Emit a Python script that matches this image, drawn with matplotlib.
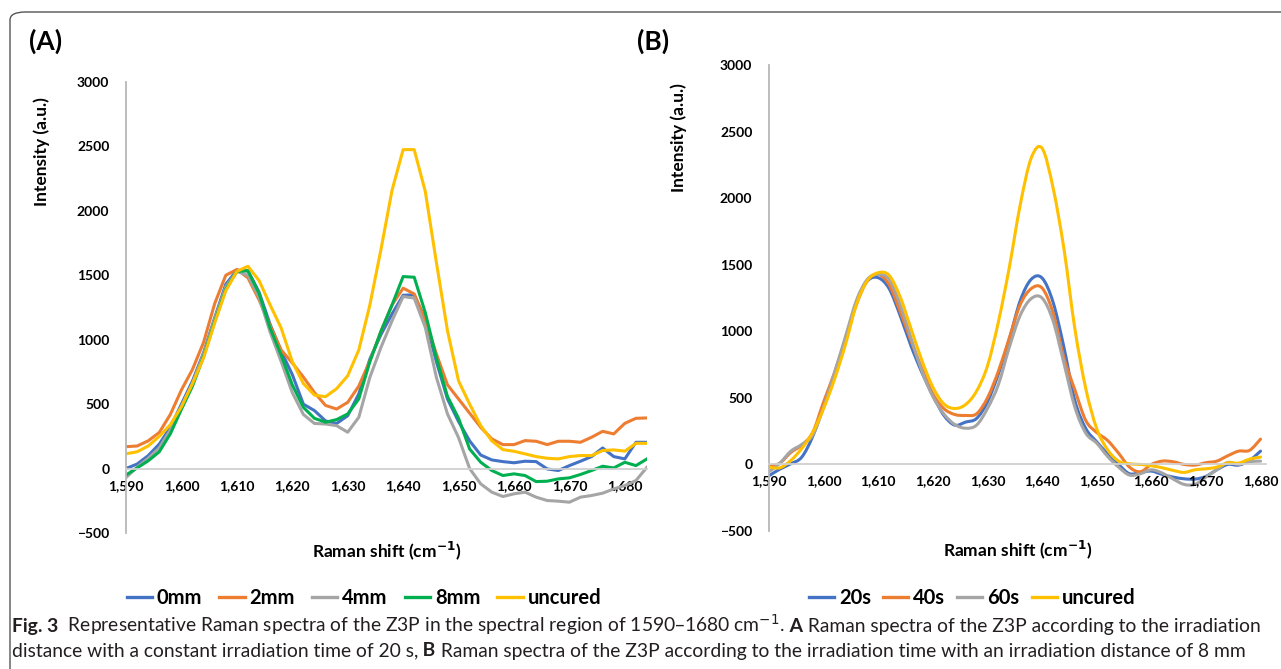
import numpy as np
import matplotlib
matplotlib.use("Agg")
import matplotlib.pyplot as plt
from matplotlib.path import Path
from matplotlib.patches import PathPatch, FancyBboxPatch
from matplotlib.lines import Line2D
from matplotlib.ticker import FuncFormatter
from matplotlib.offsetbox import TextArea, HPacker, AnchoredOffsetbox

plt.rcParams['font.family'] = ['Lato', 'DejaVu Sans']

# ---- panel A: irradiation distance (raw, straight segments) ----
shift_a = list(range(1590, 1685, 2))
mm0 = [0, 35, 100, 190, 320, 500, 680, 900, 1170, 1430, 1540, 1535, 1370, 1120, 910, 730,
       500, 450, 370, 350, 410, 580, 850, 1040, 1200, 1345, 1348, 1160, 830, 540, 365, 215,
       105, 67, 54, 45, 57, 54, -3, -15, 23, 57, 93, 160, 93, 75, 204, 204]
mm2 = [170, 175, 215, 280, 420, 610, 770, 980, 1280, 1500, 1545, 1480, 1310, 1110, 920, 820,
       710, 590, 490, 462, 514, 640, 835, 1065, 1270, 1400, 1355, 1150, 890, 650, 540, 430,
       320, 230, 186, 186, 217, 212, 186, 212, 212, 204, 243, 289, 269, 351, 390, 393]
mm4 = [-70, 10, 80, 160, 300, 480, 660, 890, 1160, 1410, 1530, 1500, 1330, 1060, 830, 590,
       420, 350, 346, 333, 282, 398, 708, 940, 1147, 1335, 1323, 1095, 708, 424, 240, 0,
       -119, -183, -217, -196, -183, -222, -248, -253, -261, -222, -209, -191, -158, -132, -93, 10]
mm8 = [-50, 5, 60, 130, 270, 460, 640, 870, 1140, 1390, 1530, 1535, 1360, 1090, 880, 650,
       475, 390, 360, 380, 424, 540, 830, 1065, 1270, 1490, 1485, 1210, 860, 560, 390, 152,
       49, -15, -54, -41, -54, -101, -98, -80, -72, -46, -15, 18, 5, 49, 23, 75]
uncured_a = [115, 130, 175, 250, 340, 480, 660, 860, 1130, 1380, 1530, 1570, 1460, 1270, 1090, 830,
             660, 570, 558, 620, 720, 920, 1270, 1700, 2160, 2475, 2475, 2150, 1600, 1070, 680, 500,
             333, 215, 147, 134, 114, 93, 80, 75, 93, 101, 101, 140, 145, 135, 196, 196]

# ---- panel B: irradiation time (smoothed lines) ----
shift_b = list(range(1590, 1681, 2))
s20 = [-85, -35, 5, 55, 210, 440, 663, 920, 1220, 1377, 1402, 1320, 1120, 890, 690, 520,
       370, 295, 318, 345, 470, 680, 940, 1230, 1390, 1400, 1220, 880, 480, 270, 170, 80,
       0, -70, -60, -50, -75, -95, -108, -110, -90, -40, 0, -5, 30, 100]
s40 = [-15, 10, 90, 145, 240, 470, 690, 940, 1200, 1380, 1427, 1350, 1150, 930, 720, 530,
       420, 375, 368, 380, 500, 700, 950, 1200, 1320, 1325, 1140, 800, 560, 330, 240, 180,
       85, -20, -55, 0, 25, 20, 0, -5, 13, 25, 65, 100, 106, 190]
s60 = [-55, 10, 100, 150, 220, 430, 690, 960, 1230, 1390, 1427, 1390, 1200, 950, 700, 510,
       380, 300, 272, 295, 420, 600, 880, 1120, 1245, 1250, 1080, 760, 430, 235, 160, 60,
       -20, -80, -70, -40, -65, -110, -150, -150, -95, -40, 15, 0, 20, 25]
uncured_b = [-20, -25, 30, 120, 240, 420, 640, 900, 1200, 1380, 1440, 1420, 1260, 1020, 780, 580,
             455, 420, 450, 550, 740, 1070, 1480, 1950, 2300, 2375, 2080, 1620, 1020, 570, 270, 110,
             25, 5, 0, -10, -25, -45, -60, -40, -33, -20, 12, 10, 40, 55]

labels_a = ['0mm', '2mm', '4mm', '8mm', 'uncured']
labels_b = ['20s', '40s', '60s', 'uncured']
colors_a = ['#4472C4', '#ED7D31', '#A5A5A5', '#00B050', '#FFC000']
colors_b = ['#4472C4', '#ED7D31', '#A5A5A5', '#FFC000']

W, H = 1281, 669
fig = plt.figure(figsize=(W / 100, H / 100), dpi=100)


def px_rect(x0, y0, x1, y1):
    # pixel box (top-left origin) -> figure fraction
    return [x0 / W, 1 - y1 / H, (x1 - x0) / W, (y1 - y0) / H]


def smooth_line(ax, x, y, color, lw):
    # Excel-like smoothed line: Catmull-Rom through the points as cubic Beziers
    pts = np.column_stack([np.asarray(x, float), np.asarray(y, float)])
    verts = [pts[0]]
    codes = [Path.MOVETO]
    n = len(pts)
    for i in range(n - 1):
        p0 = pts[max(i - 1, 0)]
        p1 = pts[i]
        p2 = pts[i + 1]
        p3 = pts[min(i + 2, n - 1)]
        verts += [p1 + (p2 - p0) / 6, p2 - (p3 - p1) / 6, p2]
        codes += [Path.CURVE4] * 3
    ax.add_patch(PathPatch(Path(verts, codes), fill=False, edgecolor=color, lw=lw,
                           capstyle='round', joinstyle='round'))


def style_axes(ax, xlim):
    ax.set_xlim(*xlim)
    ax.set_ylim(-500, 3000)
    ax.set_xticks(range(1590, 1681, 10))
    ax.set_yticks(range(-500, 3001, 500))
    ax.xaxis.set_major_formatter(FuncFormatter(lambda v, p: f'{int(v):,}'))
    for s in ['top', 'right']:
        ax.spines[s].set_visible(False)
    ax.spines['bottom'].set_position(('data', 0))
    ax.spines['bottom'].set_color('#D0D0D0')
    ax.spines['bottom'].set_linewidth(1.3)
    ax.spines['left'].set_color('#B8B8B8')
    ax.spines['left'].set_linewidth(1.3)
    ax.tick_params(axis='both', length=0, labelsize=10)
    ax.tick_params(axis='y', pad=12)
    ax.tick_params(axis='x', pad=8)
    for t in ax.get_xticklabels() + ax.get_yticklabels():
        t.set_fontweight('bold')
    ax.set_ylabel('Intensity (a.u.)', fontsize=12.5, fontweight='bold')
    ax.set_xlabel('Raman shift (cm$^{\\mathbf{-1}}$)', fontsize=12.5, fontweight='bold')
    ax.xaxis.set_label_coords(0.5, -0.015)
    ax.patch.set_alpha(0)


# panel A
ax1 = fig.add_axes(px_rect(126, 82, 647, 533))
for ys, c in zip([mm0, mm2, mm4, mm8, uncured_a], colors_a):
    ax1.plot(shift_a, ys, color=c, lw=2.2, solid_joinstyle='round')
style_axes(ax1, (1590, 1684))
ax1.yaxis.set_label_coords(-0.145, 0.845)

# panel B
ax2 = fig.add_axes(px_rect(769, 65, 1266, 531))
for ys, c in zip([s20, s40, s60, uncured_b], colors_b):
    smooth_line(ax2, shift_b, ys, c, 2.2)
style_axes(ax2, (1590, 1681))
ax2.yaxis.set_label_coords(-0.165, 0.845)

# panel letters
fig.text(29 / W, 1 - 41 / H, '(A)', fontsize=19, fontweight='bold', va='center', ha='left')
fig.text(637 / W, 1 - 41 / H, '(B)', fontsize=19, fontweight='bold', va='center', ha='left')

# legends
leg_kw = dict(loc='center', frameon=False, prop={'weight': 'bold', 'size': 14.5},
              handlelength=1.25, handletextpad=0.25)
hA = [Line2D([], [], color=c, lw=2.4) for c in colors_a]
fig.legend(hA, labels_a, bbox_to_anchor=(364 / W, 1 - 598 / H), ncol=5,
           columnspacing=0.85, **leg_kw)
hB = [Line2D([], [], color=c, lw=2.4) for c in colors_b]
fig.legend(hB, labels_b, bbox_to_anchor=(972 / W, 1 - 598 / H), ncol=4,
           columnspacing=0.6, **leg_kw)

# caption
cap_kw = dict(size=13.9, color='#231F20')


def cap_line(parts, y):
    boxes = [TextArea(t, textprops=dict(fontweight='bold' if b else 'normal', **cap_kw))
             for t, b in parts]
    pack = HPacker(children=boxes, align='baseline', pad=0, sep=0)
    ab = AnchoredOffsetbox(loc='center left', child=pack, frameon=False, pad=0,
                           bbox_to_anchor=(12 / W, 1 - y / H), bbox_transform=fig.transFigure,
                           borderpad=0)
    fig.add_artist(ab)


cap_line([('Fig. 3', True),
          ('\u00a0 Representative Raman spectra of the Z3P in the spectral region of 1590\u20131680 cm$^{-1}$.', False),
          ('\u00a0A', True),
          ('\u00a0Raman spectra of the Z3P according to the irradiation', False)], 625)
cap_line([('distance with a constant irradiation time of 20 s,', False),
          ('\u00a0B', True),
          ('\u00a0Raman spectra of the Z3P according to the irradiation time with an irradiation distance of 8 mm', False)], 651)

# outer rounded frame
frame = FancyBboxPatch((10 / W, -0.1), 1.2, 1 - 12 / H + 0.1,
                       boxstyle='round,pad=0,rounding_size=0.012',
                       transform=fig.transFigure, fill=False, edgecolor='#555555', lw=1.0)
fig.add_artist(frame)

fig.savefig('out.png', dpi=100)
